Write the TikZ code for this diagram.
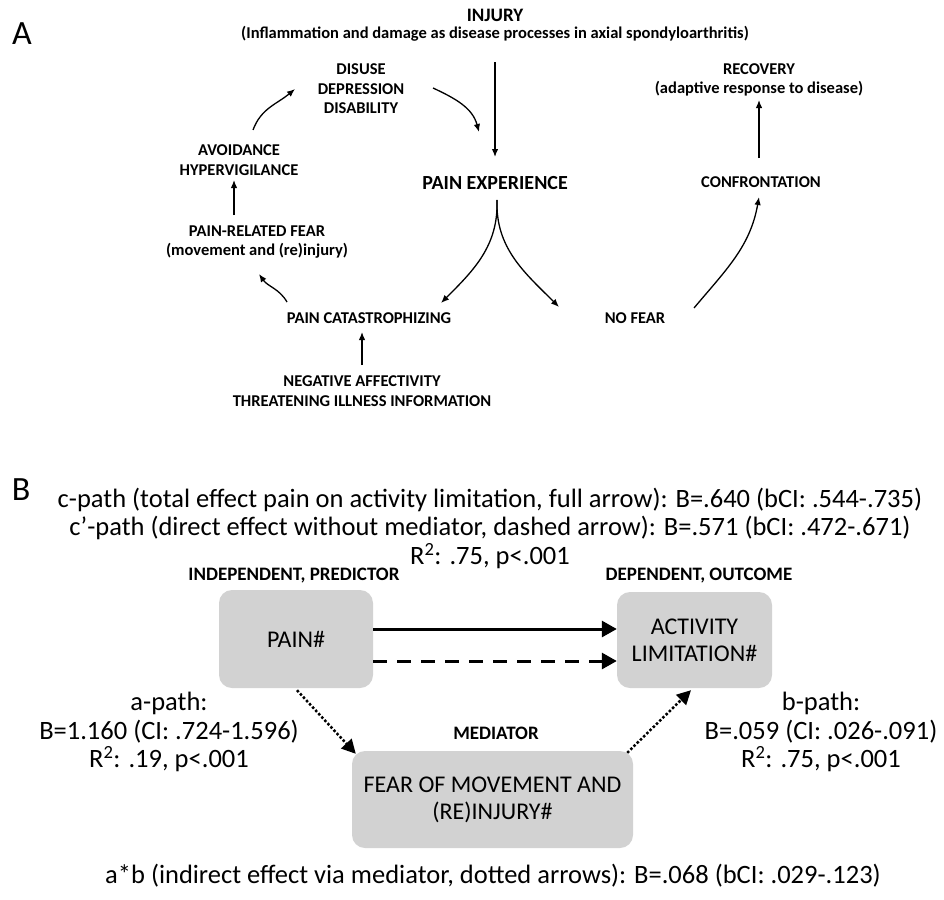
\documentclass[tikz,border=0pt]{standalone}
\usepackage{fontspec}
\setmainfont{Carlito}
\usepackage{tikz}
\usetikzlibrary{arrows.meta}
\usetikzlibrary{calc}

\definecolor{gris}{RGB}{210,210,210}

\tikzset{
  etiq/.style={font=\fontsize{16.5}{19.5}\selectfont\bfseries,align=center,inner sep=0pt},
  lettre/.style={font=\fontsize{34}{40}\selectfont,inner sep=0pt},
  texte/.style={font=\fontsize{26.5}{28.5}\selectfont,align=center,inner sep=0pt},
  titre/.style={font=\fontsize{19}{23}\selectfont\bfseries,inner sep=0pt},
  boite/.style={fill=gris,rounded corners=13pt,inner sep=0pt,align=center,font=\fontsize{24}{27}\selectfont},
  fl/.style={line width=1.3pt,-{Latex[length=8pt,width=6.5pt]}},
  flb/.style={line width=3pt,-{Triangle[length=15pt,width=16pt]}},
  flp/.style={line width=2.5pt,dash pattern=on 2.5pt off 2pt,-{Triangle[length=14pt,width=14pt]}},
}

\begin{document}
\begin{tikzpicture}[x=1pt,y=-1pt]
\useasboundingbox (0,0) rectangle (944,899);
% partie A
\node[lettre] (lA) at (22,34) {A};
\node[etiq,font=\fontsize{19}{23}\selectfont\bfseries] (injury) at (495,15) {INJURY};
\node[etiq] (inflam) at (495,34) {(Inflammation and damage as disease processes in axial spondyloarthritis)};
\node[etiq] (disuse) at (361,89) {DISUSE\\DEPRESSION\\DISABILITY};
\node[etiq,font=\fontsize{20}{24}\selectfont\bfseries] (painexp) at (495,183) {PAIN EXPERIENCE};
\node[etiq] (avoid) at (239,160) {AVOIDANCE\\HYPERVIGILANCE};
\node[etiq] (fear) at (257,242) {PAIN-RELATED FEAR\\(movement and (re)injury)};
\node[etiq] (catas) at (369,318) {PAIN CATASTROPHIZING};
\node[etiq] (nofear) at (635,318) {NO FEAR};
\node[etiq] (negaff) at (362,391) {NEGATIVE AFFECTIVITY\\THREATENING ILLNESS INFORMATION};
\node[etiq] (confr) at (761,182) {CONFRONTATION};
\node[etiq] (recov) at (759,80) {RECOVERY\\(adaptive response to disease)};
% fleches A
\draw[fl] ($(inflam)+(0,28)$) -- ($(painexp)+(0,-26)$);
\draw[fl] ($(disuse)+(72,-1)$) to[out=-25,in=105] ($(painexp)+(-16,-51)$);
\draw[fl] ($(avoid)+(14,-30)$) to[out=70,in=-140] ($(disuse)+(-66,0)$);
\draw[fl] ($(fear)+(-23,-27)$) -- ($(avoid)+(-5,20)$);
\draw[fl] ($(catas)+(-82,-16)$) to[out=120,in=-55] ($(fear)+(2,32)$);
\draw[fl] ($(painexp)+(2,17)$) to[out=-88,in=45] ($(catas)+(72,-15)$);
\draw[fl] ($(painexp)+(2,17)$) to[out=-92,in=135] ($(nofear)+(-76,-11)$);
\draw[fl] ($(nofear)+(59,-10)$) to[out=50,in=-100] ($(confr)+(-2,15)$);
\draw[fl] ($(negaff)+(0,-26)$) -- ($(catas)+(-7,14)$);
\draw[fl] ($(confr)+(-2,-24)$) -- ($(recov)+(0,20)$);

% partie B
\node[lettre] (lB) at (21,490) {B};
\node[texte] (cpath) at (490,528) {c-path (total effect pain on activity limitation, full arrow): B=.640 (bCI: .544-.735)\\c’-path (direct effect without mediator, dashed arrow): B=.571 (bCI: .472-.671)\\R\textsuperscript{2}: .75, p<.001};
\node[titre] (lindep) at (294,576) {INDEPENDENT, PREDICTOR};
\node[titre] (ldep) at (699,576) {DEPENDENT, OUTCOME};
\node[boite,minimum width=154pt,minimum height=98pt] (pain) at (296,639) {PAIN\#};
\node[boite,minimum width=155pt,minimum height=96pt] (activ) at (694.5,640) {ACTIVITY\\LIMITATION\#};
\node[titre] (lmed) at (496,733) {MEDIATOR};
\node[boite,minimum width=281pt,minimum height=97pt] (peur) at (492.5,799.5) {FEAR OF MOVEMENT AND\\(RE)INJURY\#};
\node[texte] (apath) at (169,732) {a-path:\\B=1.160 (CI: .724-1.596)\\R\textsuperscript{2}: .19, p<.001};
\node[texte] (bpath) at (821,732) {b-path:\\B=.059 (CI: .026-.091)\\R\textsuperscript{2}: .75, p<.001};
\node[texte] (ab) at (493,876) {a*b (indirect effect via mediator, dotted arrows): B=.068 (bCI: .029-.123)};
% fleches B
\draw[flb] ($(pain.east)+(0,-10)$) -- ($(activ.west)+(0,-11)$);
\draw[flb,dash pattern=on 14pt off 10pt] ($(pain.east)+(0,22)$) -- ($(activ.west)+(0,21)$);
\draw[flp] ($(pain.south)+(1,2)$) -- ($(peur.north west)+(4,3)$);
\draw[flp] ($(peur.north east)+(-6,2)$) -- ($(activ.south)+(-3.5,2)$);
\end{tikzpicture}
\end{document}
